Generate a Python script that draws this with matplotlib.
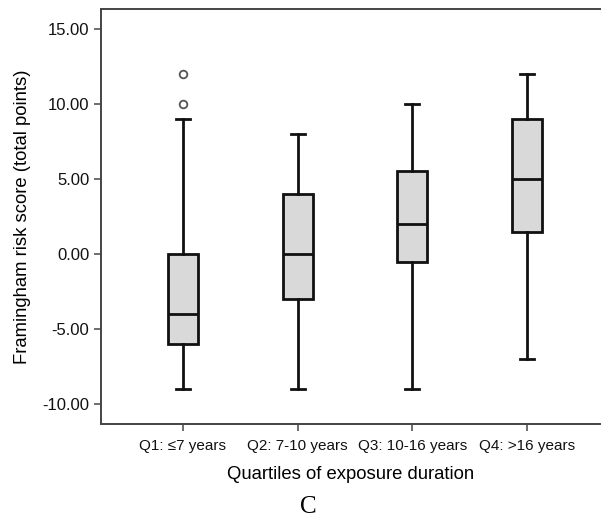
"""Box plot of Framingham risk score by quartile of exposure duration."""

import matplotlib

matplotlib.use("Agg")
import matplotlib.pyplot as plt

categories = ["Q1: \u22647 years", "Q2: 7-10 years", "Q3: 10-16 years", "Q4: >16 years"]
whisker_low = [-9, -9, -9, -7]
q1 = [-6, -3, -0.5, 1.5]
median = [-4, 0, 2, 5]
q3 = [0, 4, 5.5, 9]
whisker_high = [9, 8, 10, 12]
outliers = [[10, 12], [], [], []]
yticks = [-10, -5, 0, 5, 10, 15]


def main() -> None:
    plt.rcParams["font.family"] = ["Liberation Sans", "DejaVu Sans"]
    fig = plt.figure(figsize=(6.01, 5.21), dpi=100)
    W, H = 601, 521
    ax = fig.add_axes([101 / W, 1 - 424 / H, 500 / W, (424 - 9) / H])

    stats = []
    for i, lab in enumerate(categories):
        stats.append(dict(label=lab, whislo=whisker_low[i], q1=q1[i], med=median[i],
                          q3=q3[i], whishi=whisker_high[i], fliers=outliers[i]))

    lw = 2.0
    ax.bxp(stats, positions=range(1, 5), widths=0.26, patch_artist=True,
           boxprops=dict(facecolor="#d9d9d9", edgecolor="#111111", linewidth=lw),
           medianprops=dict(color="#111111", linewidth=lw),
           whiskerprops=dict(color="#111111", linewidth=lw),
           capprops=dict(color="#111111", linewidth=lw),
           capwidths=0.12,
           flierprops=dict(marker="o", markersize=5.5, markerfacecolor="white",
                           markeredgecolor="#555555", markeredgewidth=1.3))

    ax.set_xlim(0.285, 4.645)
    ax.set_ylim(-11.33, 16.33)
    ax.set_yticks(yticks)
    ax.set_yticklabels([f"{v:.2f}" for v in yticks], fontsize=12)
    ax.set_xticklabels(categories, fontsize=11)
    ax.tick_params(axis="both", direction="out", length=5, width=1.2, color="#555555",
                   labelcolor="#111111")
    ax.tick_params(axis="x", pad=6)
    for side in ["left", "bottom", "top"]:
        ax.spines[side].set_color("#444444")
        ax.spines[side].set_linewidth(1.4)
    ax.spines["right"].set_visible(False)

    ax.set_ylabel("Framingham risk score (total points)", fontsize=13.3, labelpad=8)
    ax.set_xlabel("Quartiles of exposure duration", fontsize=13.3, labelpad=9)
    fig.text(308 / W, 1 - 507 / H, "C", fontsize=18, family="Liberation Serif",
             ha="center", va="center")

    fig.savefig("out.png", dpi=100)


if __name__ == "__main__":
    main()
